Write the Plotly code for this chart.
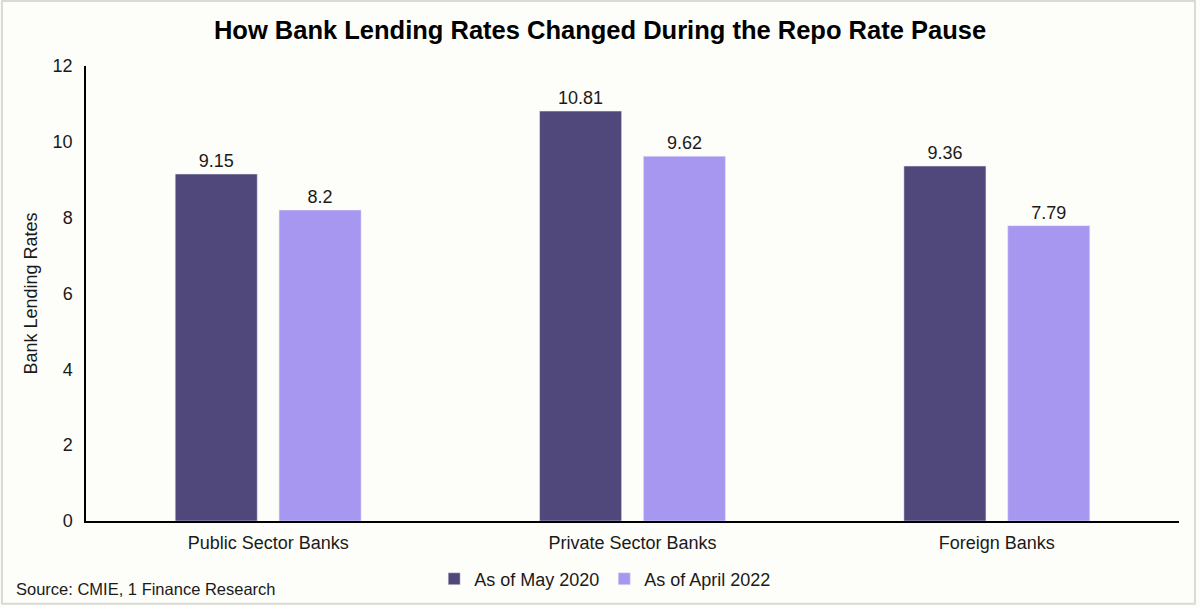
import plotly.graph_objects as go

categories = ["Public Sector Banks", "Private Sector Banks", "Foreign Banks"]
may_2020 = [9.15, 10.81, 9.36]
april_2022 = [8.2, 9.62, 7.79]
y_ticks = [0, 2, 4, 6, 8, 10, 12]

font_family = "Liberation Sans, Arial, sans-serif"

fig = go.Figure()
fig.add_trace(go.Bar(
    x=categories, y=may_2020, name="As of May 2020",
    marker=dict(color="#50487A"),
    text=[str(v) for v in may_2020], textposition="outside",
    textfont=dict(size=18, color="#1a1a1a"), cliponaxis=False,
))
fig.add_trace(go.Bar(
    x=categories, y=april_2022, name="As of April 2022",
    marker=dict(color="#A797F1"),
    text=[str(v) for v in april_2022], textposition="outside",
    textfont=dict(size=18, color="#1a1a1a"), cliponaxis=False,
))

fig.update_layout(
    width=1200, height=607,
    barmode="group", bargap=0.43, bargroupgap=0.21,
    paper_bgcolor="#FDFDF9", plot_bgcolor="#FDFDF9",
    font=dict(family=font_family, size=18, color="#1a1a1a"),
    margin=dict(l=86, r=21, t=66, b=86, autoexpand=False),
    title=dict(text="<b>How Bank Lending Rates Changed During the Repo Rate Pause</b>",
               x=0.5, xanchor="center", yref="container", y=0.951, yanchor="middle",
               font=dict(size=25.5, color="#000000")),
    xaxis=dict(showline=True, linecolor="#000000", linewidth=1.5, automargin=False,
               ticks="", showgrid=False, tickfont=dict(size=18), ticklabelstandoff=5),
    yaxis=dict(range=[0, 12], tickvals=y_ticks, showline=True, automargin=False,
               linecolor="#000000", linewidth=1.5, ticks="", showgrid=False,
               zeroline=False, tickfont=dict(size=18), ticklabelstandoff=8,
               title=dict(text="Bank Lending Rates", font=dict(size=18), standoff=10)),
    legend=dict(orientation="h", x=0.475, xanchor="center", yref="container",
                y=0.046, yanchor="middle",
                font=dict(size=18), bgcolor="rgba(0,0,0,0)", itemwidth=30,
                traceorder="normal"),
)

fig.add_annotation(text="Source: CMIE, 1 Finance Research", xref="paper", yref="paper",
                   x=-0.0659, y=-0.149, xanchor="left", yanchor="middle", showarrow=False,
                   font=dict(size=16.5, color="#1a1a1a"))

# light gray frame round the chart
fig.add_shape(type="rect", xref="paper", yref="paper",
              x0=-0.0769, y0=-0.182, x1=1.0146, y1=1.143,
              line=dict(color="#D9D9D9", width=2), fillcolor="rgba(0,0,0,0)")

# page body has an 8px default margin, drop it so the figure sits at 0,0
fig.write_html("out.html", config={"displayModeBar": False},
               post_script="document.body.style.margin='0';")
